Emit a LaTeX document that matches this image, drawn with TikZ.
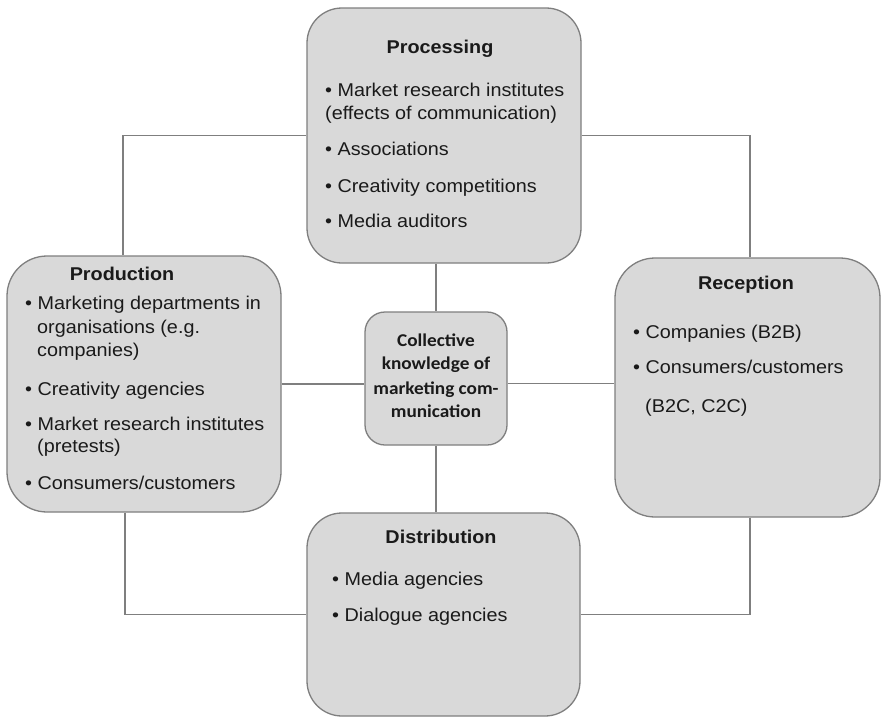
\documentclass[tikz,border=0pt]{standalone}
\usepackage{fontspec}
\setmainfont{Liberation Sans}[FakeStretch=1.07]
\newfontfamily\calfont{Carlito}[FakeStretch=1.07]
\usetikzlibrary{calc}
\definecolor{boxfill}{HTML}{D9D9D9}
\definecolor{boxline}{HTML}{7F7F7F}
\definecolor{txt}{HTML}{1A1A1A}
\tikzset{
 box/.style={draw=boxline, fill=boxfill, line width=1.3pt, inner sep=0pt},
 conn/.style={draw=boxline, line width=1.3pt},
 ttl/.style={font=\fontsize{18.5}{22}\selectfont\bfseries, anchor=base, inner sep=0pt, text=txt},
 itm/.style={font=\fontsize{18.5}{22}\selectfont, anchor=base west, inner sep=0pt, text=txt},
 ctrtxt/.style={font=\calfont\fontsize{18}{22}\selectfont\bfseries, anchor=base, inner sep=0pt, text=txt},
}
\begin{document}
\begin{tikzpicture}[x=1pt,y=-1pt]
\useasboundingbox[fill=white] (0,0) rectangle (881,718);
% boxes
\node[box, rounded corners=35pt, minimum width=274pt, minimum height=255pt] (proc) at (444,135.5) {};
\node[box, rounded corners=40pt, minimum width=274pt, minimum height=256pt] (prod) at (144,384) {};
\node[box, rounded corners=40pt, minimum width=265pt, minimum height=259pt] (rec) at (747.5,387.5) {};
\node[box, rounded corners=35pt, minimum width=273pt, minimum height=203pt] (dist) at (443.5,614.5) {};
\node[box, rounded corners=20pt, minimum width=142pt, minimum height=133pt] (ctr) at (436,378.5) {};
% connectors
\draw[conn] (proc.west) -| ([xshift=-21pt]prod.north);
\draw[conn] (proc.east) -| ([xshift=2.5pt]rec.north);
\draw[conn] ([xshift=-19pt]prod.south) |- (dist.west);
\draw[conn] ([xshift=2.5pt]rec.south) |- (dist.east);
\draw[conn] (proc.south -| ctr.north) -- (ctr.north);
\draw[conn] (ctr.south) -- (ctr.south |- dist.north);
\draw[conn] (prod.east) -- (prod.east -| ctr.west);
\draw[conn] ([yshift=-5pt]ctr.east) -- ([yshift=-5pt]ctr.east -| rec.west);
% Processing
\node[ttl] (procT) at (440,53) {Processing};
\node[itm] (procA) at (325,96) {• Market research institutes};
\node[itm] (procA2) at (325,119) {(effects of communication)};
\node[itm] (procB) at (325,155) {• Associations};
\node[itm] (procC) at (325,192) {• Creativity competitions};
\node[itm] (procD) at (325,227) {• Media auditors};
% Production
\node[ttl] (prodT) at (122,280) {Production};
\node[itm] (prodA) at (25,309) {• Marketing departments in};
\node[itm] (prodA2) at (37,333) {organisations (e.g.};
\node[itm] (prodA3) at (37,356) {companies)};
\node[itm] (prodB) at (25,395) {• Creativity agencies};
\node[itm] (prodC) at (25,430) {• Market research institutes};
\node[itm] (prodC2) at (37,452) {(pretests)};
\node[itm] (prodD) at (25,489) {• Consumers/customers};
% Reception
\node[ttl] (recT) at (746,289) {Reception};
\node[itm] (recA) at (633,338) {• Companies (B2B)};
\node[itm] (recB) at (633,373) {• Consumers/customers};
\node[itm] (recB2) at (645,412) {(B2C, C2C)};
% Distribution
\node[ttl] (distT) at (441,543) {Distribution};
\node[itm] (distA) at (332,585) {• Media agencies};
\node[itm] (distB) at (332,621) {• Dialogue agencies};
% Centre
\node[ctrtxt] (c1) at (436,346) {Collective};
\node[ctrtxt] (c2) at (436,369) {knowledge of};
\node[ctrtxt] (c3) at (436,394) {marketing com-};
\node[ctrtxt] (c4) at (436,417) {munication};
\end{tikzpicture}
\end{document}
